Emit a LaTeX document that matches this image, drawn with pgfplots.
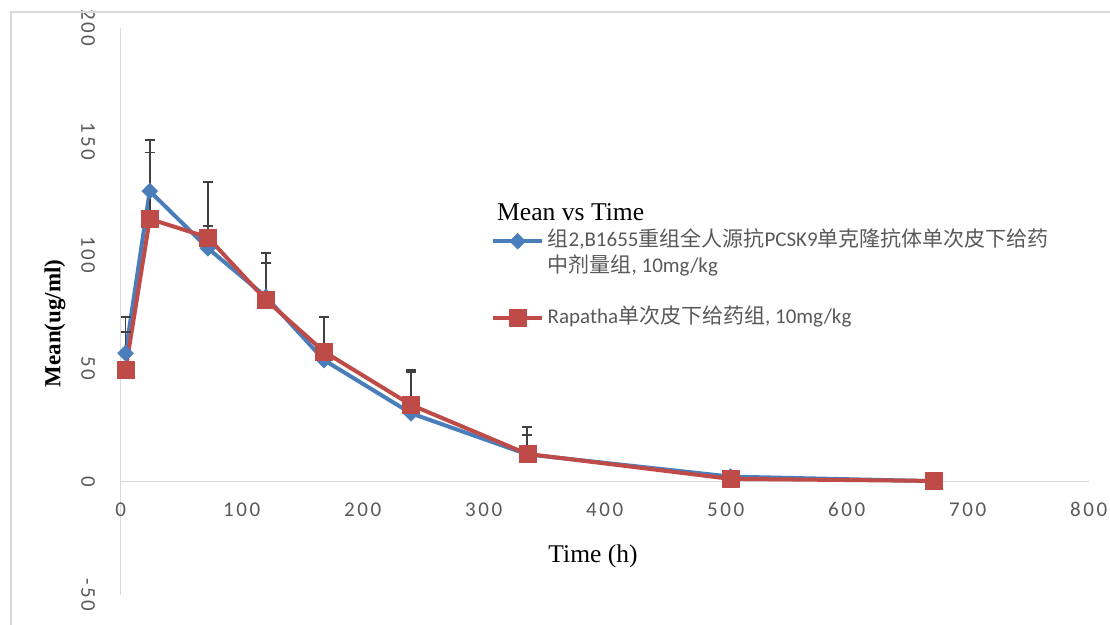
\documentclass[border=0pt]{standalone}
\usepackage{pgfplots}
\pgfplotsset{compat=1.18}
\usepackage{fontspec}
\setmainfont{Liberation Serif}
\newfontfamily\carl{Carlito}
\newfontfamily\carlsp[LetterSpace=12]{Carlito}
\newfontfamily\cjk{Noto Sans CJK SC}
\newcommand\cj[1]{{\cjk #1}}
\definecolor{xlblue}{HTML}{4A7EBB}
\definecolor{xlred}{HTML}{BE4B48}
\definecolor{tickgray}{HTML}{595959}
\definecolor{axgray}{HTML}{D9D9D9}
\definecolor{errgray}{HTML}{404040}

\pgfplotstableread{
t m e
4 56.6 15.8
24 128.1 17.0
72 102.9 9.8
120 81.5 19.2
168 53.6 18.8
240 30.1 19.1
336 12.0 12.2
504 2.2 0.5
672 0.2 0.1
}\blue

\pgfplotstableread{
t m e
4 49.2 16.8
24 115.8 34.8
72 107.7 24.3
120 80.1 16.4
168 57.3 15.1
240 33.8 14.7
336 12.2 8.3
504 1.2 0.5
672 0.3 0.1
}\red

\begin{document}
\begin{tikzpicture}
\path[use as bounding box] (-120.7bp,-30bp) rectangle (989.3bp,595bp);
\begin{axis}[
  at={(0,0)}, anchor=south west,
  scale only axis, width=968bp, height=567bp,
  xmin=0, xmax=800, ymin=-50, ymax=200,
  axis x line*=middle, axis y line*=left,
  axis line style={axgray, line width=1.3bp},
  hide obscured x ticks=false, hide obscured y ticks=false,
  xtick={0,100,...,800}, ytick={-50,0,...,200},
  major tick length=0pt,
  /pgf/number format/assume math mode=true,
  tick label style={font=\carlsp\fontsize{21bp}{21bp}\selectfont, text=tickgray},
  xticklabel style={anchor=center, yshift=-28bp},
  yticklabel style={rotate=-90, anchor=center, yshift=-32.7bp},
  legend cell align=left,
  legend style={draw=none, fill=none, at={(0.3825,0.6437)}, anchor=north west,
    inner sep=0pt, row sep=3.5bp, column sep=3bp,
    font=\carl\fontsize{21bp}{21bp}\selectfont, text=tickgray,
    nodes={inner sep=0.5bp, text height=16bp, text depth=5bp}},
  legend image code/.code={\draw[mark repeat=2, mark phase=2, #1] plot coordinates {(0bp,0bp) (24.5bp,0bp) (49bp,0bp)};},
]
\addplot[xlblue, line width=4bp, mark=square*, mark size=5.6bp,
  mark options={rotate=45, line width=0.5bp, fill=xlblue},
  error bars/.cd, y dir=plus, y explicit,
  error bar style={errgray, line width=1.8bp},
  error mark options={rotate=90, errgray, line width=1.8bp, mark size=5bp}]
  table[x=t, y=m, y error=e] {\blue};
\addlegendentry{\cj{组}2,B1655\cj{重组全人源抗}PCSK9\cj{单克隆抗体单次皮下给药}}
\addlegendimage{empty legend}
\addlegendentry{\cj{中剂量组}, 10mg/kg}
\addlegendimage{empty legend}
\addlegendentry{\strut}
\addplot[xlred, line width=4bp, mark=square*, mark size=8.5bp,
  mark options={line width=0.5bp, fill=xlred},
  error bars/.cd, y dir=plus, y explicit,
  error bar style={errgray, line width=1.8bp},
  error mark options={rotate=90, errgray, line width=1.8bp, mark size=5bp}]
  table[x=t, y=m, y error=e] {\red};
\addlegendentry{Rapatha\cj{单次皮下给药组}, 10mg/kg}
\end{axis}
\node[anchor=base west, inner sep=0pt, font=\fontsize{25.6bp}{25.6bp}\selectfont] at (376.3bp,374bp) {Mean vs Time};
\node[anchor=base, inner sep=0pt, font=\fontsize{25.5bp}{25.5bp}\selectfont] at (472.3bp,33bp) {Time (h)};
\node[rotate=90, inner sep=0pt, font=\bfseries\fontsize{23bp}{23bp}\selectfont] at (-65.7bp,271.5bp) {Mean(ug/ml)};
\draw[axgray, line width=1.5bp] (-109.7bp,-30bp) -- (-109.7bp,583bp) -- (989.3bp,583bp);
\end{tikzpicture}
\end{document}
